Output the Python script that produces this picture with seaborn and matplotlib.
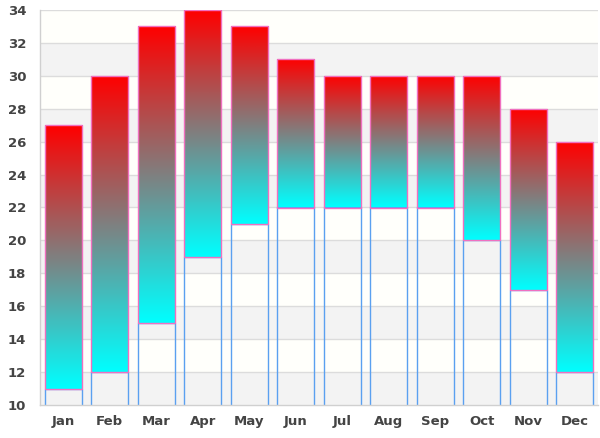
import numpy as np
import pandas as pd
import matplotlib
matplotlib.use("Agg")
import matplotlib.pyplot as plt
import seaborn as sns
from matplotlib.colors import LinearSegmentedColormap

months = ["Jan", "Feb", "Mar", "Apr", "May", "Jun", "Jul", "Aug", "Sep", "Oct", "Nov", "Dec"]
low = [11, 12, 15, 19, 21, 22, 22, 22, 22, 20, 17, 12]
high = [27, 30, 33, 34, 33, 31, 30, 30, 30, 30, 28, 26]
yticks = list(range(10, 35, 2))

df = pd.DataFrame({"month": months, "low": low, "high": high})

sns.set_theme(style="white")
plt.rcParams["font.family"] = ["DejaVu Sans"]

fig = plt.figure(figsize=(6, 4.38), dpi=100)
ax = fig.add_axes([40 / 600, 33 / 438, 558 / 600, 395 / 438])

# background bands
for i, t in enumerate(yticks[:-1]):
    ax.axhspan(t, t + 2, color="#f3f3f3" if i % 2 == 0 else "#fffffb", zorder=0, lw=0)
for t in yticks[1:]:
    ax.axhline(t, color="#dcdcdc", lw=1, zorder=0.5)

# base bars (transparent, blue edges)
sns.barplot(data=df, x="month", y="low", ax=ax, width=0.8, facecolor="none",
            edgecolor="#5aa0f0", linewidth=1, zorder=1)
n_base = len(ax.patches)

# range bars
sns.barplot(data=df, x="month", y="high", ax=ax, width=0.8, facecolor="none",
            edgecolor="#f070c0", linewidth=1, zorder=3)

cmap = LinearSegmentedColormap.from_list("cr", ["#00ffff", "#ff0000"])
grad = np.linspace(0, 1, 256).reshape(-1, 1)
for p, lo, hi in zip(ax.patches[n_base:], low, high):
    p.set_y(lo)
    p.set_height(hi - lo)
    x0 = p.get_x()
    w = p.get_width()
    im = ax.imshow(grad, cmap=cmap, aspect="auto", origin="lower",
                   extent=[x0, x0 + w, lo, hi], zorder=2, interpolation="bilinear")
    im.set_clip_path(p)

ax.set_xlim(-0.5, 11.5)
ax.set_ylim(10, 34)
ax.set_yticks(yticks)
ax.set_xlabel("")
ax.set_ylabel("")
ax.tick_params(axis="both", length=0, labelsize=9.5, labelcolor="#444444")
ax.tick_params(axis="y", pad=10)
ax.tick_params(axis="x", pad=7)
for lab in ax.get_xticklabels() + ax.get_yticklabels():
    lab.set_fontweight("bold")

for s in ["top", "right"]:
    ax.spines[s].set_visible(False)
for s in ["left", "bottom"]:
    ax.spines[s].set_color("#d0d0d0")
    ax.spines[s].set_linewidth(1)

fig.savefig("out.png", dpi=100)
